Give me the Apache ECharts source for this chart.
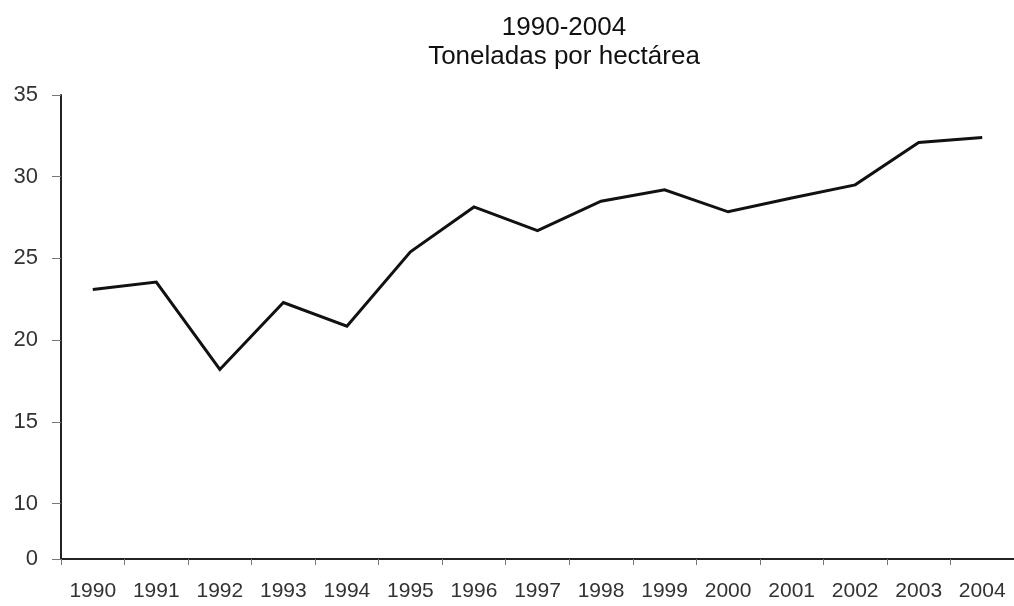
<!DOCTYPE html>
<html>
<head>
<meta charset="utf-8">
<title>Toneladas por hectárea</title>
<script src="https://cdn.jsdelivr.net/npm/echarts@6/dist/echarts.min.js"></script>
<style>
  html, body { margin: 0; padding: 0; background: #fff; }
  #chart { width: 1014px; height: 606px; }
</style>
</head>
<body>
<div id="chart"></div>
<script>
'use strict';
// years on the x axis
const years = ['1990', '1991', '1992', '1993', '1994', '1995', '1996', '1997',
  '1998', '1999', '2000', '2001', '2002', '2003', '2004'];
// yield, tonnes per hectare
const yields = [23.1, 23.55, 18.2, 22.3, 20.85, 25.4, 28.15, 26.7,
  28.5, 29.2, 27.85, 28.7, 29.5, 32.1, 32.4];
// the axis is cut: "0" sits just under 10
const yFloor = 6.6;
const yTickValues = [yFloor, 10, 15, 20, 25, 30, 35];
const yTickLabels = ['0', '10', '15', '20', '25', '30', '35'];

const font = '"Liberation Sans", Arial, sans-serif';
let chart = echarts.init(document.getElementById('chart'));
chart.setOption({
  animation: false,
  backgroundColor: '#fff',
  title: {
    text: '1990-2004\nToneladas por hectárea',
    left: 559,
    top: 8,
    textAlign: 'center',
    textStyle: {
      fontFamily: font,
      fontSize: 26,
      fontWeight: 'normal',
      color: '#111',
      lineHeight: 29
    }
  },
  grid: {
    left: 61,
    right: -8,
    top: 95,
    bottom: 47
  },
  xAxis: {
    type: 'category',
    data: years,
    boundaryGap: true,
    axisLine: { lineStyle: { color: '#222', width: 2 } },
    axisTick: { show: true, length: 6, lineStyle: { color: '#777' } },
    axisLabel: {
      margin: 22,
      fontFamily: font,
      fontSize: 21,
      color: '#333'
    },
    splitLine: { show: false }
  },
  yAxis: {
    type: 'value',
    min: yFloor,
    max: 35,
    axisLine: { show: true, lineStyle: { color: '#222', width: 2 } },
    axisTick: {
      show: true,
      length: 9,
      customValues: yTickValues,
      lineStyle: { color: '#777' }
    },
    axisLabel: {
      margin: 23,
      customValues: yTickValues,
      formatter: function (v) {
        let i = yTickValues.indexOf(v);
        return i >= 0 ? yTickLabels[i] : '';
      },
      fontFamily: font,
      fontSize: 22,
      color: '#333'
    },
    splitLine: { show: false }
  },
  series: [
    {
      type: 'line',
      data: yields,
      symbol: 'none',
      lineStyle: { color: '#111', width: 3, join: 'miter' }
    }
  ]
});
</script>
</body>
</html>
